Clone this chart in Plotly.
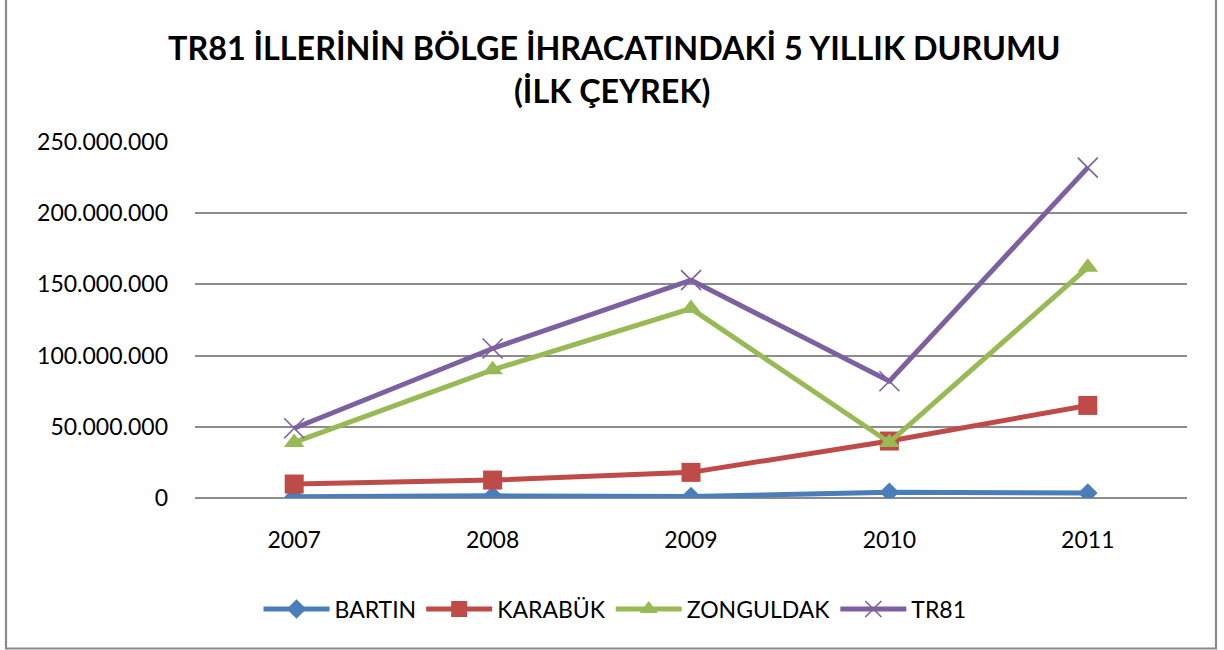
import plotly.graph_objects as go

years = ["2007", "2008", "2009", "2010", "2011"]
bartin = [800000, 1500000, 1000000, 4000000, 3500000]
karabuk = [9800000, 12600000, 18000000, 40000000, 65000000]
zonguldak = [39000000, 90000000, 133000000, 39000000, 162000000]
tr81 = [49000000, 105000000, 153000000, 82000000, 232000000]

y_tickvals = [0, 50000000, 100000000, 150000000, 200000000, 250000000]
y_ticktext = ["0", "50.000.000", "100.000.000", "150.000.000", "200.000.000", "250.000.000"]

title_line1 = "TR81 İLLERİNİN BÖLGE İHRACATINDAKİ 5 YILLIK DURUMU"
title_line2 = "(İLK ÇEYREK)"

series = [
    ("BARTIN", bartin, "#4A7EBB", "diamond", 15, None),
    ("KARABÜK", karabuk, "#BE4B48", "square", 19, None),
    ("ZONGULDAK", zonguldak, "#98B954", "triangle-up", 18, None),
    ("TR81", tr81, "#7D60A0", "x-thin", 20, 1.6),
]

fig = go.Figure()
for name, vals, color, sym, size, mlw in series:
    marker = dict(symbol=sym, size=size, color=color)
    if mlw:
        marker["line"] = dict(color=color, width=mlw)
    fig.add_trace(go.Scatter(
        x=years, y=vals, name=name, mode="lines+markers",
        line=dict(color=color, width=5),
        marker=marker,
    ))

W, H = 1224, 650
L, R, T, B = 195, 37, 142, 152
pw, ph = W - L - R, H - T - B

def px_to_paper_x(px):
    return (px - L) / pw

def px_to_paper_y(py):
    return (H - B - py) / ph

FONT = "Lato, Carlito, sans-serif"

fig.update_layout(
    width=W, height=H,
    margin=dict(l=L, r=R, t=T, b=B),
    paper_bgcolor="white", plot_bgcolor="white",
    font=dict(family=FONT, size=23, color="black"),
    xaxis=dict(
        type="category", range=[-0.5, 4.5], showgrid=False, zeroline=False,
        showline=False, ticks="", ticklabelstandoff=26,
        tickfont=dict(size=23),
    ),
    yaxis=dict(
        range=[0, 250000000], tickvals=y_tickvals, ticktext=y_ticktext,
        showgrid=True, gridcolor="#8C8C8C", gridwidth=1.5,
        zeroline=True, zerolinecolor="#8C8C8C", zerolinewidth=1.5,
        showline=False, ticks="", ticklabelstandoff=26,
        tickfont=dict(size=23),
    ),
    legend=dict(
        orientation="h", x=(262 + 968) / 2 / W, xanchor="center", xref="container",
        y=(H - 609) / H, yanchor="middle", yref="container",
        font=dict(size=23), itemwidth=66, traceorder="normal",
    ),
    showlegend=True,
    annotations=[
        dict(text="<b>%s</b>" % title_line1, xref="paper", yref="paper",
             x=px_to_paper_x(614.5), y=px_to_paper_y(47), xanchor="center", yanchor="middle",
             showarrow=False, font=dict(family=FONT, size=32.3, color="black")),
        dict(text="<b>%s</b>" % title_line2, xref="paper", yref="paper",
             x=px_to_paper_x(612), y=px_to_paper_y(90), xanchor="center", yanchor="middle",
             showarrow=False, font=dict(family=FONT, size=32.3, color="black")),
    ],
    shapes=[dict(
        type="rect", xref="paper", yref="paper",
        x0=px_to_paper_x(6), x1=px_to_paper_x(1216),
        y0=px_to_paper_y(648.5), y1=px_to_paper_y(-10),
        line=dict(color="#8A8A8A", width=2.2), fillcolor="rgba(0,0,0,0)",
        layer="below",
    )],
)

fig.write_html(
    "out.html",
    config={"displayModeBar": False},
    post_script="document.body.style.margin='0';document.body.style.overflow='hidden';",
)
